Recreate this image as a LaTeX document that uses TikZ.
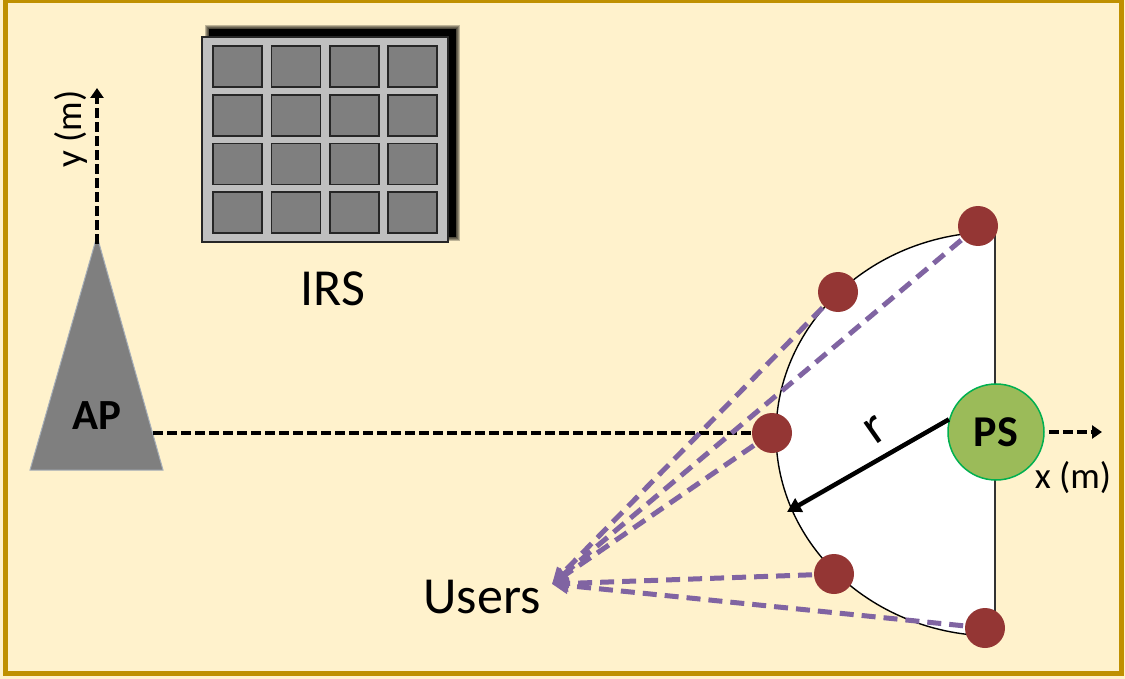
\documentclass[tikz,border=0pt]{standalone}
\usepackage{fontspec}
\setmainfont{Carlito}
\usetikzlibrary{arrows.meta}
\definecolor{bgfill}{HTML}{FFF2CC}
\definecolor{framegold}{HTML}{BF9000}
\definecolor{panelgray}{HTML}{BFBFBF}
\definecolor{cellgray}{HTML}{7F7F7F}
\definecolor{apgray}{HTML}{7F7F7F}
\definecolor{apedge}{HTML}{A6AEB8}
\definecolor{dotred}{HTML}{943634}
\definecolor{psfill}{HTML}{9BBB59}
\definecolor{psedge}{HTML}{00B050}
\definecolor{linkpurple}{HTML}{8064A2}
\begin{document}
\begin{tikzpicture}[x=1pt,y=1pt,
  lbl/.style={inner sep=0pt, font=\fontsize{52}{60}\selectfont},
  axislbl/.style={inner sep=0pt, font=\fontsize{37}{44}\selectfont},
  boldlbl/.style={inner sep=0pt, font=\fontsize{43}{50}\selectfont\bfseries},
  cell/.style={fill=cellgray, draw=black!85, line width=1.8pt},
  axisline/.style={black, line width=4.5pt, dash pattern=on 10pt off 4pt,
    -{Triangle[length=10pt,width=13pt]}},
  link/.style={linkpurple, line width=5pt, dash pattern=on 14pt off 8pt,
    -{Triangle[length=16pt,width=16pt]}},
  dot/.style={circle, fill=dotred, minimum size=40pt, inner sep=0pt},
  psnode/.style={circle, fill=psfill, draw=psedge, line width=1.5pt,
    minimum size=96pt, inner sep=0pt, font=\fontsize{44}{50}\selectfont\bfseries},
  radius arrow/.style={black, line width=4.5pt, -{Triangle[length=14pt,width=15pt]}}
]
\useasboundingbox (0,0) rectangle (1125,-679);

% background and frame
\fill[bgfill] (0,0) rectangle (1125,-679);
\draw[framegold, line width=5pt] (5.5,-0.5) rectangle (1121,-673.5);

% IRS panel with soft shadow
\foreach \k in {4,3,2,1} {
  \fill[black, opacity=0.25] (209-\k,-29+\k) rectangle (456+\k,-237-\k);
}
\fill[black] (209,-29) rectangle (456,-237);
\draw[fill=panelgray, draw=black!85, line width=1.5pt] (202,-37) rectangle (448,-242);
\foreach \i in {0,...,3} {
  \foreach \j in {0,...,3} {
    \draw[cell] (213+58.4*\i,-46-48.8*\j) rectangle ++(49,-41);
  }
}
\node[lbl] (irs) at (333,-289) {IRS};

% coverage region around the PS
\filldraw[fill=white, draw=black, line width=1.4pt]
  (995,-232) arc[start angle=90, end angle=270, x radius=219, y radius=202];
\draw[black!80, line width=1.4pt] (995,-232) -- (995,-636);

% access point
\coordinate (apex) at (97,-236);
\coordinate (apright) at (153,-433);
\fill[apgray] (apex) -- (163,-470) -- (30,-470) -- cycle;
\draw[apedge, line width=1pt] (apex) -- (163,-470) -- (30,-470) -- cycle;
\node[boldlbl] (ap) at (97,-416) {AP};

% y axis
\coordinate (yend) at (97,-88);
\draw[axisline] ([yshift=-8pt]apex) -- (yend);
\node[axislbl, rotate=90] (ylbl) at (71,-129) {y (m)};

% user positions
\coordinate (p1) at (978,-226);
\coordinate (p2) at (838,-292);
\coordinate (p3) at (772,-433);
\coordinate (p4) at (834,-574);
\coordinate (p5) at (985,-628);
\coordinate (users) at (552,-584);

% x axis from the AP
\draw[black, line width=4.5pt, dash pattern=on 10pt off 4pt] (apright) -- (p3);

% links to the users
\foreach \p in {p1,p2,p3,p4,p5} {
  \draw[link] (\p) -- (users);
}
\node[lbl] (userlbl) at (482,-597) {Users};

% user dots
\node[dot] (u1) at (p1) {};
\node[dot] (u2) at (p2) {};
\node[dot] (u3) at (p3) {};
\node[dot] (u4) at (p4) {};
\node[dot] (u5) at (p5) {};

% power station
\node[psnode] (ps) at (996,-432) {PS};
\coordinate (xend) at (1102,-432);
\draw[axisline, shorten <=4pt] (ps.east) -- (xend);
\node[axislbl] (xlbl) at (1073,-478) {x (m)};

% radius
\coordinate (rtip) at (787,-512);
\draw[radius arrow] (ps.165) -- (rtip);
\node[lbl, rotate=35] (rlbl) at (876,-430) {r};
\end{tikzpicture}
\end{document}
